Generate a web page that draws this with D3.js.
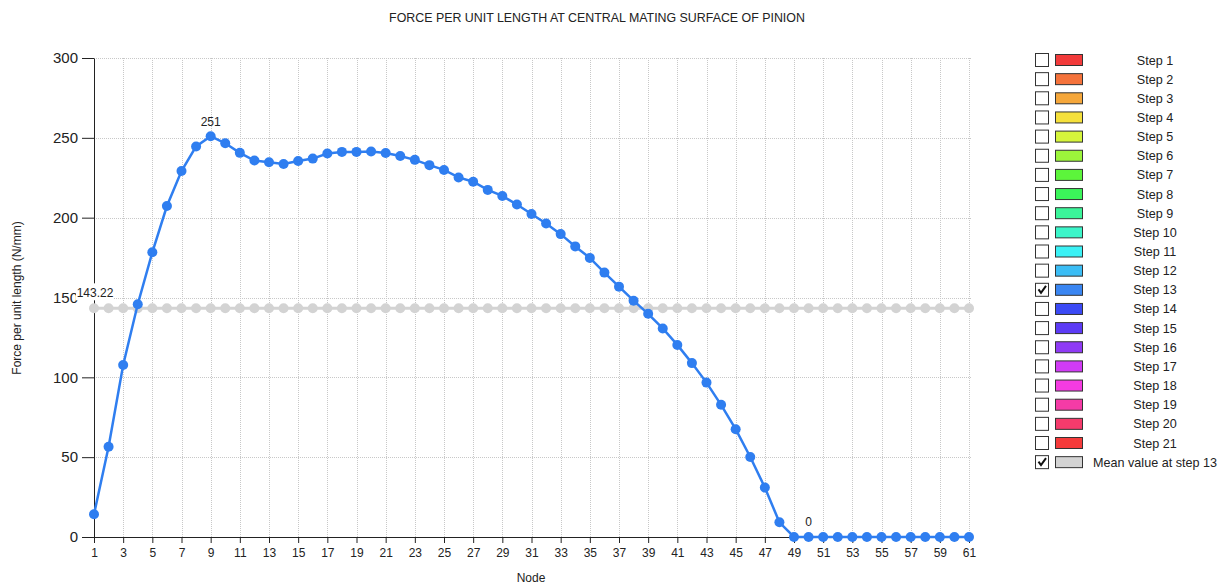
<!DOCTYPE html>
<html>
<head>
<meta charset="utf-8">
<script src="https://cdn.jsdelivr.net/npm/d3@7/dist/d3.min.js"></script>
<style>
  html, body { margin: 0; padding: 0; background: #fff; }
  svg { display: block; font-family: "Liberation Sans", Arial, sans-serif; }
</style>
</head>
<body>
<svg id="chart" width="1230" height="585"></svg>
<script>
// Node numbers along the contact line
const nodes = d3.range(1, 62);

// Force per unit length at step 13 (N/mm), one value per node
const step13 = [
  14.2, 56.5, 107.7, 145.8, 178.3, 207.3, 229.2, 244.6, 251.0, 246.6,
  240.6, 235.8, 234.7, 233.6, 235.5, 237.0, 240.2, 241.2, 241.2, 241.4,
  240.5, 238.6, 236.2, 232.9, 229.9, 225.2, 222.5, 217.4, 213.6, 208.2,
  202.3, 196.3, 189.7, 182.0, 174.8, 165.6, 156.8, 148.0, 139.8, 130.6,
  120.3, 108.9, 96.7, 82.8, 67.5, 50.1, 31.0, 9.2, 0, 0,
  0, 0, 0, 0, 0, 0, 0, 0, 0, 0, 0
];

// Mean value at step 13
const meanValue = 143.22;

// Axis ticks
const xTicks = d3.range(1, 62, 2);
const yTicks = [0, 50, 100, 150, 200, 250, 300];

// Value annotations: [node, value]
const maxLabel = [9, 251];
const minLabel = [50, 0];

// Legend entries
const legendLabels = d3.range(1, 22).map(i => "Step " + i).concat(["Mean value at step 13"]);
const legendColors = [
  "#f23b3b", "#f5733b", "#f5a73b", "#f5e03b", "#d6f53b", "#9cf53b", "#5cf53b",
  "#3bf55a", "#3bf59a", "#3bf5c9", "#3bf1f5", "#3bbdf5", "#3a86f2", "#3b4af5",
  "#5c3bf5", "#8f3bf5", "#d13bf5", "#f53be2", "#f53ba6", "#f53b6c", "#f53b3b",
  "#d3d3d3"
];
const legendChecked = [13, 22]; // 1-based rows that are ticked

const svg = d3.select("#chart");

const plotLeft = 94, plotRight = 969, plotTop = 58, plotBottom = 537;
const x = d3.scaleLinear().domain([1, 61]).range([plotLeft, plotRight]);
const y = d3.scaleLinear().domain([0, 300]).range([plotBottom, plotTop]);

// Title
svg.append("text")
  .attr("x", 597).attr("y", 22)
  .attr("text-anchor", "middle")
  .attr("font-size", 12.4).attr("fill", "#222")
  .text("FORCE PER UNIT LENGTH AT CENTRAL MATING SURFACE OF PINION");

// Grid
const grid = svg.append("g").attr("stroke", "#c8c8c8").attr("stroke-dasharray", "1,1").attr("stroke-width", 1);
grid.selectAll("line.v").data(xTicks.filter(d => d > 1)).join("line")
  .attr("class", "v")
  .attr("x1", d => Math.round(x(d)) + 0.5).attr("x2", d => Math.round(x(d)) + 0.5)
  .attr("y1", plotTop).attr("y2", plotBottom);
grid.selectAll("line.h").data(yTicks.filter(d => d > 0)).join("line")
  .attr("class", "h")
  .attr("x1", plotLeft).attr("x2", plotRight + 3)
  .attr("y1", d => Math.round(y(d)) + 0.5).attr("y2", d => Math.round(y(d)) + 0.5);

// Axes
const xAxis = svg.append("g")
  .attr("transform", `translate(0,${plotBottom})`)
  .call(d3.axisBottom(x).tickValues(xTicks).tickSize(6).tickSizeOuter(0).tickPadding(5));
xAxis.selectAll("text").attr("font-size", 12).attr("fill", "#222").attr("font-family", "Liberation Sans, Arial, sans-serif");
xAxis.select(".domain").attr("stroke", "#222").attr("d", `M82,0.5H${plotRight + 3}`);
xAxis.selectAll(".tick line").attr("stroke", "#222");

const yAxis = svg.append("g")
  .attr("transform", `translate(${plotLeft},0)`)
  .call(d3.axisLeft(y).tickValues(yTicks).tickSize(12).tickSizeOuter(0).tickPadding(4));
yAxis.selectAll("text").attr("font-size", 15).attr("fill", "#222").attr("font-family", "Liberation Sans, Arial, sans-serif");
yAxis.select(".domain").attr("stroke", "#222");
yAxis.selectAll(".tick line").attr("stroke", "#222");

// Axis titles
svg.append("text")
  .attr("x", 531).attr("y", 582)
  .attr("text-anchor", "middle").attr("font-size", 12).attr("fill", "#222")
  .text("Node");
svg.append("text")
  .attr("transform", "translate(21,298) rotate(-90)")
  .attr("text-anchor", "middle").attr("font-size", 12).attr("fill", "#222")
  .text("Force per unit length (N/mm)");

const line = d3.line().x(d => x(d[0])).y(d => y(d[1]));

// Mean series
const meanPts = nodes.map(n => [n, meanValue]);
svg.append("path").datum(meanPts)
  .attr("d", line).attr("fill", "none")
  .attr("stroke", "#d3d3d3").attr("stroke-width", 3);
svg.append("g").selectAll("circle").data(meanPts).join("circle")
  .attr("cx", d => x(d[0])).attr("cy", d => y(d[1])).attr("r", 5)
  .attr("fill", "#d3d3d3");

// Step 13 series
const stepPts = nodes.map((n, i) => [n, step13[i]]);
svg.append("path").datum(stepPts)
  .attr("d", line).attr("fill", "none")
  .attr("stroke", "#2f7ef0").attr("stroke-width", 2.5);
svg.append("g").selectAll("circle").data(stepPts).join("circle")
  .attr("cx", d => x(d[0])).attr("cy", d => y(d[1])).attr("r", 5)
  .attr("fill", "#2f7ef0");

// Mean value label with white backing
const meanLbl = svg.append("g");
meanLbl.append("rect")
  .attr("x", x(1) - 18).attr("y", y(meanValue) - 25).attr("width", 37).attr("height", 17)
  .attr("fill", "#fff");
meanLbl.append("text")
  .attr("x", x(1) + 1).attr("y", y(meanValue) - 11)
  .attr("text-anchor", "middle").attr("font-size", 12).attr("fill", "#222")
  .text(String(meanValue));

// Max / min labels
svg.append("text")
  .attr("x", x(maxLabel[0])).attr("y", y(maxLabel[1]) - 10)
  .attr("text-anchor", "middle").attr("font-size", 12).attr("fill", "#222")
  .text(String(maxLabel[1]));
svg.append("text")
  .attr("x", x(minLabel[0])).attr("y", y(minLabel[1]) - 11)
  .attr("text-anchor", "middle").attr("font-size", 12).attr("fill", "#222")
  .text(String(minLabel[1]));

// Legend
const legend = svg.append("g");
const rows = legend.selectAll("g").data(legendLabels).join("g")
  .attr("transform", (d, i) => `translate(0,${60 + i * 19.15})`);
rows.append("rect")
  .attr("x", 1035.5).attr("y", -6.5).attr("width", 13).attr("height", 13)
  .attr("fill", "#fff").attr("stroke", "#333").attr("stroke-width", 1);
rows.filter((d, i) => legendChecked.includes(i + 1)).append("path")
  .attr("d", "M1038.5,-0.5L1041,3L1046,-4")
  .attr("fill", "none").attr("stroke", "#111").attr("stroke-width", 2);
rows.append("rect")
  .attr("x", 1055.5).attr("y", -5.5).attr("width", 27).attr("height", 11)
  .attr("fill", (d, i) => legendColors[i]).attr("stroke", "#333").attr("stroke-width", 1);
rows.append("text")
  .attr("x", 1155).attr("y", 4.5)
  .attr("text-anchor", "middle").attr("font-size", 12.6).attr("fill", "#222")
  .text(d => d);
</script>
</body>
</html>
